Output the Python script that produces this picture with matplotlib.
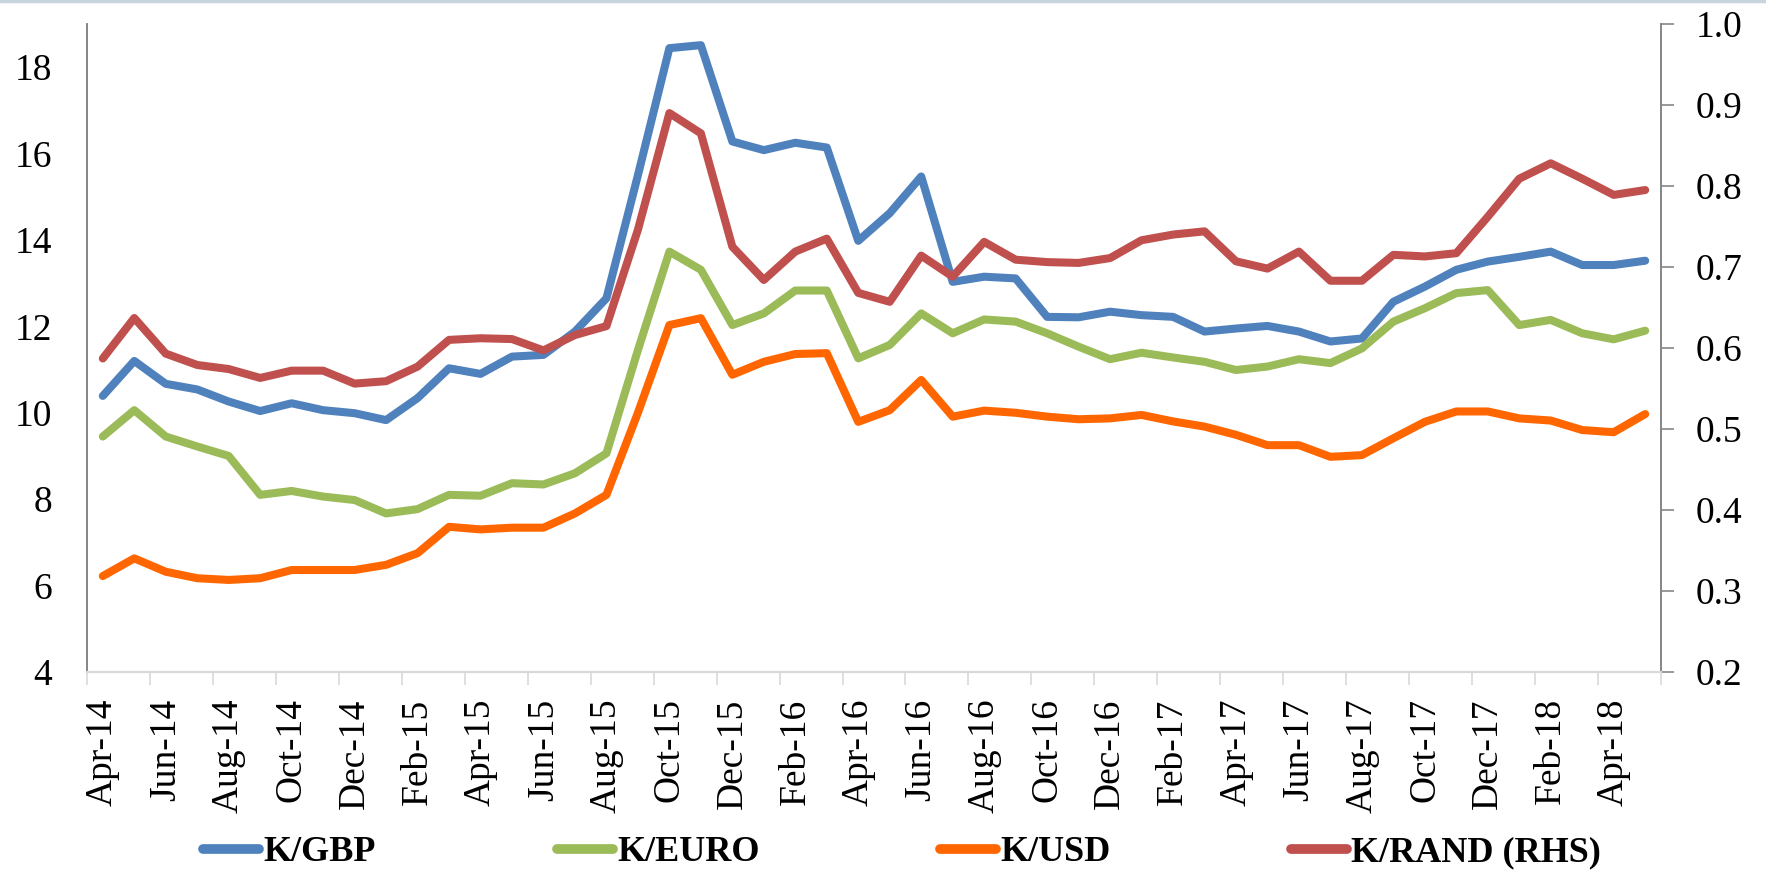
import matplotlib
matplotlib.use('Agg')

import numpy as np
import matplotlib.pyplot as plt
from matplotlib.lines import Line2D

plt.rcParams['font.family'] = ['Liberation Serif', 'DejaVu Serif']

# taxas mensais Abr-14 .. Mai-18
k_gbp = [10.39, 11.20, 10.67, 10.54, 10.26, 10.04, 10.22, 10.06, 9.99, 9.83,
         10.34, 11.03, 10.90, 11.30, 11.34, 11.88, 12.65, 15.50, 18.44, 18.51,
         16.28, 16.08, 16.25, 16.14, 13.98, 14.62, 15.47, 13.03, 13.15, 13.11,
         12.22, 12.21, 12.34, 12.26, 12.22, 11.88, 11.95, 12.01, 11.88, 11.65,
         11.72, 12.57, 12.92, 13.31, 13.50, 13.61, 13.73, 13.42, 13.42, 13.52]
k_euro = [9.45, 10.06, 9.45, 9.22, 9.00, 8.10, 8.19, 8.06, 7.98, 7.67,
          7.77, 8.10, 8.08, 8.37, 8.34, 8.60, 9.06, 11.45, 13.73, 13.31,
          12.03, 12.30, 12.83, 12.83, 11.26, 11.57, 12.30, 11.84, 12.16, 12.11,
          11.84, 11.53, 11.24, 11.39, 11.28, 11.18, 10.99, 11.07, 11.24, 11.15,
          11.49, 12.11, 12.42, 12.77, 12.84, 12.03, 12.15, 11.84, 11.70, 11.90]
k_usd = [6.22, 6.63, 6.32, 6.17, 6.13, 6.17, 6.36, 6.36, 6.36, 6.48,
         6.75, 7.36, 7.30, 7.34, 7.34, 7.67, 8.10, 10.00, 12.03, 12.19,
         10.88, 11.18, 11.36, 11.38, 9.79, 10.06, 10.76, 9.91, 10.05, 10.00,
         9.91, 9.85, 9.87, 9.95, 9.80, 9.68, 9.49, 9.25, 9.25, 8.98,
         9.02, 9.41, 9.79, 10.03, 10.03, 9.87, 9.82, 9.60, 9.55, 9.97]
k_rand = [0.587, 0.637, 0.593, 0.579, 0.574, 0.563, 0.572, 0.572, 0.556, 0.559,
          0.577, 0.610, 0.612, 0.611, 0.597, 0.616, 0.627, 0.746, 0.890, 0.865,
          0.725, 0.684, 0.719, 0.735, 0.668, 0.657, 0.714, 0.688, 0.731, 0.709,
          0.706, 0.705, 0.711, 0.733, 0.740, 0.744, 0.707, 0.698, 0.719, 0.683,
          0.683, 0.715, 0.713, 0.717, 0.762, 0.809, 0.828, 0.809, 0.789, 0.795]

rotulos = ['Apr-14', 'Jun-14', 'Aug-14', 'Oct-14', 'Dec-14', 'Feb-15', 'Apr-15',
           'Jun-15', 'Aug-15', 'Oct-15', 'Dec-15', 'Feb-16', 'Apr-16', 'Jun-16',
           'Aug-16', 'Oct-16', 'Dec-16', 'Feb-17', 'Apr-17', 'Jun-17', 'Aug-17',
           'Oct-17', 'Dec-17', 'Feb-18', 'Apr-18']

x = np.arange(len(k_gbp))

fig = plt.figure(figsize=(17.66, 8.72), dpi=100)
ax = fig.add_axes([0.0493, 0.2294, 0.8912, 0.7431])
ax2 = ax.twinx()

estilo = dict(linewidth=5.8, solid_capstyle='round', solid_joinstyle='round')
l1, = ax.plot(x, k_gbp, color='#4F81BD', label='K/GBP', **estilo)
l2, = ax.plot(x, k_euro, color='#9BBB59', label='K/EURO', **estilo)
l3, = ax.plot(x, k_usd, color='#FF6600', label='K/USD', **estilo)
l4, = ax2.plot(x, k_rand, color='#C0504D', label='K/RAND (RHS)', **estilo)

ax.set_xlim(-0.5, len(x) - 0.5)
ax.set_ylim(4, 19)
ax.set_yticks(np.arange(4, 19, 2))
ax2.set_ylim(0.2, 1.0)
ax2.set_yticks(np.arange(0.2, 1.01, 0.1))
ax2.set_yticklabels([f'{v:.1f}' for v in np.arange(0.2, 1.01, 0.1)])

ax.set_xticks(x[::2])
ax.set_xticklabels(rotulos, rotation=90)
ax.set_xticks(np.arange(-0.5, len(x), 2), minor=True)
ax.tick_params(axis='x', which='major', length=0, pad=19, labelsize=27)
ax.tick_params(axis='x', which='minor', length=9, width=1.2, color='#D9D9D9', direction='out')
ax.tick_params(axis='y', length=0, pad=25, labelsize=27)
ax2.tick_params(axis='y', length=9, width=1.2, color='#868686', pad=16, labelsize=27)

for a in (ax, ax2):
    a.spines['top'].set_visible(False)
    a.spines['left'].set_color('#868686')
    a.spines['right'].set_color('#868686')
    a.spines['bottom'].set_color('#D9D9D9')
    a.spines['left'].set_linewidth(1.2)
    a.spines['right'].set_linewidth(1.2)
    a.spines['bottom'].set_linewidth(1.5)

# legenda embaixo
leg = fig.legend(handles=[l1, l2, l3, l4], loc='center', bbox_to_anchor=(0.511, 0.022),
                 ncol=4, frameon=False, handlelength=1.55, handletextpad=0.12,
                 columnspacing=5.0, prop={'family': 'Liberation Serif', 'weight': 'bold', 'size': 26})
for h in leg.legend_handles:
    h.set_linewidth(7)

fig.add_artist(Line2D([0, 1], [0.9985, 0.9985], color='#C9D5DD', linewidth=2.5,
                      transform=fig.transFigure))

plt.savefig('out.png', dpi=100)
